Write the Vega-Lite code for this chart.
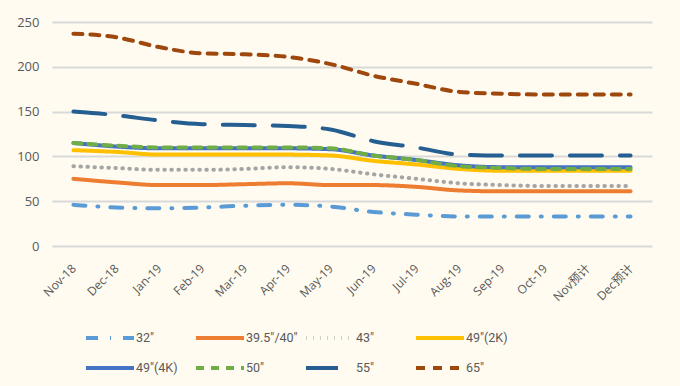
{
  "$schema": "https://vega.github.io/schema/vega-lite/v6.json",
  "width": 600,
  "height": 224,
  "autosize": {"type": "none"},
  "padding": {"left": 52, "top": 22, "right": 28, "bottom": 140},
  "background": "#FFFBF0",
  "config": {
    "view": {"stroke": null},
    "font": "Open Sans, Noto Sans CJK SC, sans-serif"
  },
  "data": {
    "values": [
      {"m":"Nov-18","s":"32\"","v":46},{"m":"Dec-18","s":"32\"","v":43},{"m":"Jan-19","s":"32\"","v":42},{"m":"Feb-19","s":"32\"","v":43},{"m":"Mar-19","s":"32\"","v":45},{"m":"Apr-19","s":"32\"","v":46},{"m":"May-19","s":"32\"","v":44},{"m":"Jun-19","s":"32\"","v":38},{"m":"Jul-19","s":"32\"","v":35},{"m":"Aug-19","s":"32\"","v":33},{"m":"Sep-19","s":"32\"","v":33},{"m":"Oct-19","s":"32\"","v":33},{"m":"Nov预计","s":"32\"","v":33},{"m":"Dec预计","s":"32\"","v":33},
      {"m":"Nov-18","s":"39.5\"/40\"","v":75},{"m":"Dec-18","s":"39.5\"/40\"","v":71},{"m":"Jan-19","s":"39.5\"/40\"","v":68},{"m":"Feb-19","s":"39.5\"/40\"","v":68},{"m":"Mar-19","s":"39.5\"/40\"","v":69},{"m":"Apr-19","s":"39.5\"/40\"","v":70},{"m":"May-19","s":"39.5\"/40\"","v":68},{"m":"Jun-19","s":"39.5\"/40\"","v":68},{"m":"Jul-19","s":"39.5\"/40\"","v":66},{"m":"Aug-19","s":"39.5\"/40\"","v":62},{"m":"Sep-19","s":"39.5\"/40\"","v":61},{"m":"Oct-19","s":"39.5\"/40\"","v":61},{"m":"Nov预计","s":"39.5\"/40\"","v":61},{"m":"Dec预计","s":"39.5\"/40\"","v":61},
      {"m":"Nov-18","s":"43\"","v":89},{"m":"Dec-18","s":"43\"","v":87},{"m":"Jan-19","s":"43\"","v":85},{"m":"Feb-19","s":"43\"","v":85},{"m":"Mar-19","s":"43\"","v":86},{"m":"Apr-19","s":"43\"","v":88},{"m":"May-19","s":"43\"","v":86},{"m":"Jun-19","s":"43\"","v":80},{"m":"Jul-19","s":"43\"","v":75},{"m":"Aug-19","s":"43\"","v":70},{"m":"Sep-19","s":"43\"","v":68},{"m":"Oct-19","s":"43\"","v":67},{"m":"Nov预计","s":"43\"","v":67},{"m":"Dec预计","s":"43\"","v":67},
      {"m":"Nov-18","s":"49\"(2K)","v":107},{"m":"Dec-18","s":"49\"(2K)","v":105},{"m":"Jan-19","s":"49\"(2K)","v":102},{"m":"Feb-19","s":"49\"(2K)","v":102},{"m":"Mar-19","s":"49\"(2K)","v":102},{"m":"Apr-19","s":"49\"(2K)","v":102},{"m":"May-19","s":"49\"(2K)","v":101},{"m":"Jun-19","s":"49\"(2K)","v":95},{"m":"Jul-19","s":"49\"(2K)","v":91},{"m":"Aug-19","s":"49\"(2K)","v":86},{"m":"Sep-19","s":"49\"(2K)","v":84},{"m":"Oct-19","s":"49\"(2K)","v":84},{"m":"Nov预计","s":"49\"(2K)","v":84},{"m":"Dec预计","s":"49\"(2K)","v":84},
      {"m":"Nov-18","s":"49\"(4K)","v":115},{"m":"Dec-18","s":"49\"(4K)","v":111},{"m":"Jan-19","s":"49\"(4K)","v":109},{"m":"Feb-19","s":"49\"(4K)","v":109},{"m":"Mar-19","s":"49\"(4K)","v":109},{"m":"Apr-19","s":"49\"(4K)","v":109},{"m":"May-19","s":"49\"(4K)","v":108},{"m":"Jun-19","s":"49\"(4K)","v":101},{"m":"Jul-19","s":"49\"(4K)","v":96},{"m":"Aug-19","s":"49\"(4K)","v":90},{"m":"Sep-19","s":"49\"(4K)","v":88},{"m":"Oct-19","s":"49\"(4K)","v":88},{"m":"Nov预计","s":"49\"(4K)","v":88},{"m":"Dec预计","s":"49\"(4K)","v":88},
      {"m":"Nov-18","s":"50\"","v":115},{"m":"Dec-18","s":"50\"","v":112},{"m":"Jan-19","s":"50\"","v":110},{"m":"Feb-19","s":"50\"","v":110},{"m":"Mar-19","s":"50\"","v":110},{"m":"Apr-19","s":"50\"","v":110},{"m":"May-19","s":"50\"","v":109},{"m":"Jun-19","s":"50\"","v":101},{"m":"Jul-19","s":"50\"","v":96},{"m":"Aug-19","s":"50\"","v":89},{"m":"Sep-19","s":"50\"","v":87},{"m":"Oct-19","s":"50\"","v":86},{"m":"Nov预计","s":"50\"","v":86},{"m":"Dec预计","s":"50\"","v":86},
      {"m":"Nov-18","s":"55\"","v":150},{"m":"Dec-18","s":"55\"","v":146},{"m":"Jan-19","s":"55\"","v":140},{"m":"Feb-19","s":"55\"","v":136},{"m":"Mar-19","s":"55\"","v":135},{"m":"Apr-19","s":"55\"","v":134},{"m":"May-19","s":"55\"","v":130},{"m":"Jun-19","s":"55\"","v":117},{"m":"Jul-19","s":"55\"","v":110},{"m":"Aug-19","s":"55\"","v":102},{"m":"Sep-19","s":"55\"","v":101},{"m":"Oct-19","s":"55\"","v":101},{"m":"Nov预计","s":"55\"","v":101},{"m":"Dec预计","s":"55\"","v":101},
      {"m":"Nov-18","s":"65\"","v":237},{"m":"Dec-18","s":"65\"","v":233},{"m":"Jan-19","s":"65\"","v":222},{"m":"Feb-19","s":"65\"","v":215},{"m":"Mar-19","s":"65\"","v":214},{"m":"Apr-19","s":"65\"","v":211},{"m":"May-19","s":"65\"","v":203},{"m":"Jun-19","s":"65\"","v":190},{"m":"Jul-19","s":"65\"","v":181},{"m":"Aug-19","s":"65\"","v":172},{"m":"Sep-19","s":"65\"","v":170},{"m":"Oct-19","s":"65\"","v":169},{"m":"Nov预计","s":"65\"","v":169},{"m":"Dec预计","s":"65\"","v":169}
    ]
  },
  "mark": {"type": "line", "strokeWidth": 4, "interpolate": "monotone", "strokeCap": "round"},
  "encoding": {
    "x": {
      "field": "m", "type": "ordinal", "sort": null,
      "scale": {"paddingOuter": 0.5},
      "axis": {"title": null, "domain": false, "ticks": false, "grid": false, "labelAngle": -45, "labelAlign": "right", "labelBaseline": "middle", "labelPadding": 20, "labelFontSize": 12, "labelColor": "#595959"}
    },
    "y": {
      "field": "v", "type": "quantitative",
      "scale": {"domain": [0, 250], "nice": false},
      "axis": {"title": null, "domain": false, "ticks": false, "values": [0, 50, 100, 150, 200, 250], "labelPadding": 13, "labelFontSize": 13, "labelColor": "#595959", "gridColor": "#D9D9D9", "gridWidth": 2}
    },
    "color": {
      "field": "s", "type": "nominal", "sort": null,
      "scale": {
        "domain": ["32\"", "39.5\"/40\"", "43\"", "49\"(2K)", "49\"(4K)", "50\"", "55\"", "65\""],
        "range": ["#5B9BD5", "#ED7D31", "#A5A5A5", "#FFC000", "#4472C4", "#70AD47", "#255E91", "#9E480E"]
      },
      "legend": {
        "title": null, "orient": "none", "legendX": 32, "legendY": 309, "direction": "horizontal", "columns": 4,
        "gridAlign": "all",
        "symbolType": "M-1,0H8.6", "symbolSize": 100, "symbolStrokeWidth": 4, "labelFont": "Roboto", "labelFontSize": 12.5, "labelColor": "#595959",
        "columnPadding": 0, "rowPadding": 14, "labelOffset": 38
      }
    },
    "strokeDash": {
      "field": "s", "type": "nominal", "sort": null,
      "scale": {
        "domain": ["32\"", "39.5\"/40\"", "43\"", "49\"(2K)", "49\"(4K)", "50\"", "55\"", "65\""],
        "range": [[12, 12, 1, 12], [1, 0], [0.5, 6.5], [1, 0], [1, 0], [8, 7], [32, 18], [9, 8]]
      },
      "legend": null
    }
  }
}
